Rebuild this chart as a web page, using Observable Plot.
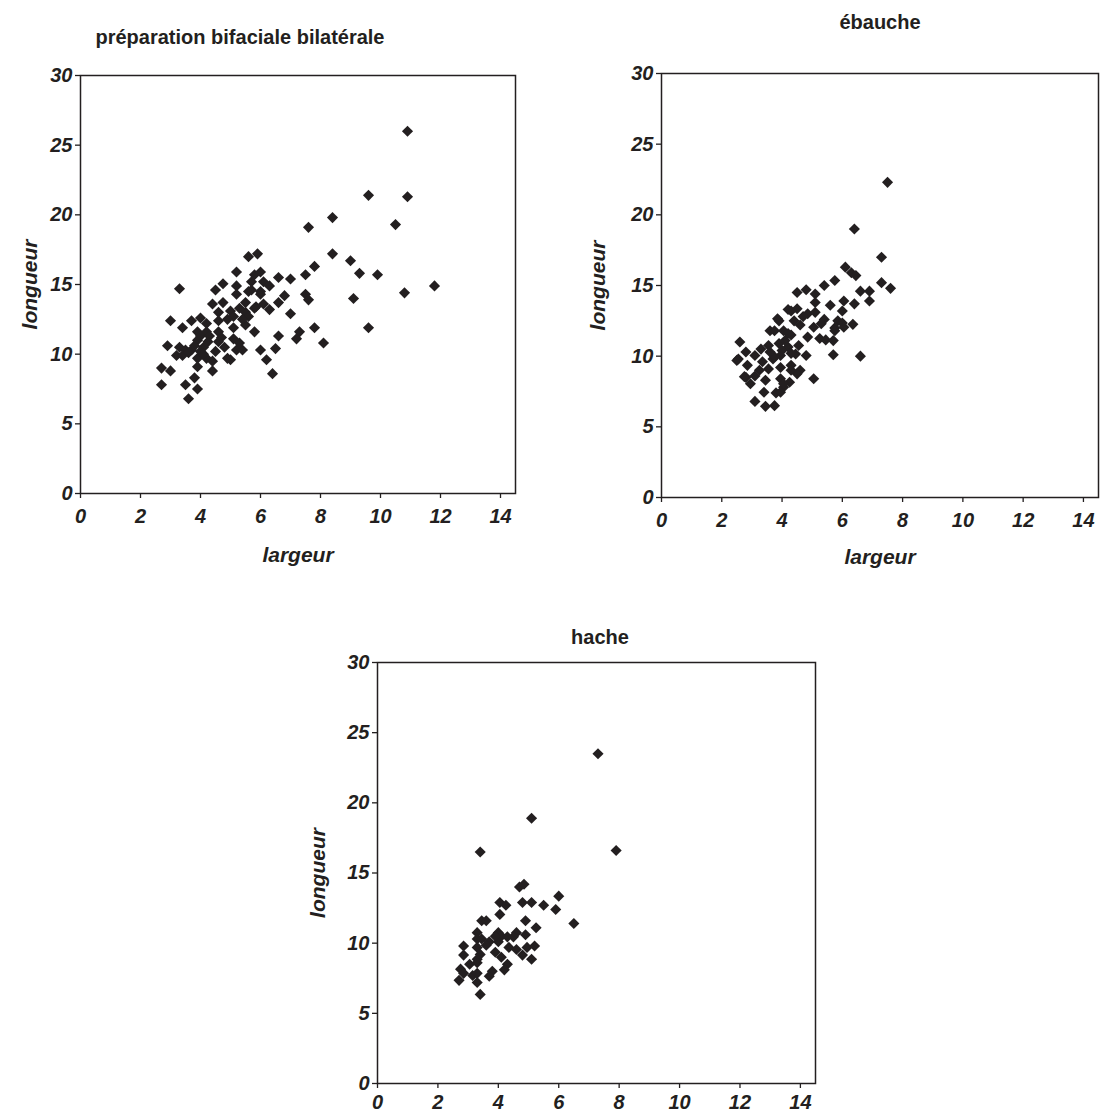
<!DOCTYPE html>
<html><head><meta charset="utf-8">
<script src="https://cdn.jsdelivr.net/npm/d3@7"></script>
<script src="https://cdn.jsdelivr.net/npm/@observablehq/plot@0.6"></script>
<style>
body{margin:0;background:#fff;font-family:"Liberation Sans",Arial,sans-serif;}
#wrap{position:relative;width:1100px;height:1115px;overflow:hidden;background:#fff;}
.title{position:absolute;font-weight:bold;font-size:20px;color:#231f20;transform:translate(-50%,-50%);white-space:nowrap;}
.chart{position:absolute;}
.chart g[aria-label="y-axis label"] text, .chart g[aria-label="x-axis label"] text{font-size:21px;}
</style></head><body><div id="wrap"></div>
<script>
const xTicks = [0, 2, 4, 6, 8, 10, 12, 14];
const yTicks = [0, 5, 10, 15, 20, 25, 30];
const titles = ["préparation bifaciale bilatérale", "ébauche", "hache"];
const xLabel = "largeur";
const yLabel = "longueur";

// [largeur, longueur]
const bifaciale = [
[10.9,26.0],[9.6,21.4],[10.9,21.3],[8.4,19.8],[7.6,19.1],[10.5,19.3],[8.4,17.2],[9.0,16.7],
[9.3,15.8],[9.9,15.7],[11.8,14.9],[9.1,14.0],[10.8,14.4],[9.6,11.9],[7.8,16.3],[7.5,15.7],
[7.0,15.4],[6.6,15.5],[5.6,17.0],[5.9,17.2],[5.2,15.9],[5.8,15.7],[6.0,15.9],[5.7,15.2],
[6.1,15.2],[6.3,14.9],[5.2,14.9],[5.2,14.3],[5.6,14.5],[6.0,14.5],[6.8,14.2],[7.5,14.3],
[7.6,13.9],[6.6,13.7],[7.0,12.9],[5.5,13.7],[6.1,13.6],[6.3,13.2],[5.0,13.1],[5.5,13.0],
[5.8,13.3],[5.1,12.7],[5.6,12.7],[5.1,11.9],[5.5,12.1],[5.8,11.6],[7.8,11.9],[7.3,11.6],
[7.2,11.1],[6.6,11.3],[6.5,10.4],[8.1,10.8],[6.0,10.3],[6.2,9.6],[6.4,8.6],[5.1,11.1],
[5.2,10.3],[5.4,10.3],[5.0,9.6],[3.3,14.7],[4.75,15.05],[4.5,14.6],[5.7,14.6],[6.0,14.3],
[4.4,13.6],[4.75,13.7],[4.6,13.0],[5.3,13.3],[5.85,13.4],[3.0,12.4],[3.7,12.4],[3.4,11.9],
[4.0,12.6],[4.2,12.2],[4.6,12.4],[4.9,12.5],[5.4,12.5],[3.9,11.6],[4.2,11.6],[4.6,11.6],
[4.7,11.2],[2.9,10.6],[3.3,10.5],[3.5,10.3],[3.7,10.3],[3.9,11.0],[4.1,10.5],[4.25,10.9],
[3.2,9.9],[3.4,9.9],[3.9,9.7],[4.2,9.7],[4.6,10.9],[4.8,10.5],[4.9,9.7],[4.4,9.5],
[2.7,9.0],[3.0,8.8],[3.9,9.1],[4.4,8.8],[2.7,7.8],[3.5,7.8],[3.8,8.3],[3.9,7.5],[3.6,6.8],
[3.6,10.1],[4.0,10.2],[3.8,10.6],[4.0,11.3],[4.3,11.3],[4.1,10.0],[5.3,10.8],[4.5,10.2]
];

const ebauche = [
[7.5,22.3],[6.4,19.0],[7.3,17.0],[6.1,16.3],[6.3,15.9],[6.45,15.7],[7.3,15.2],[7.6,14.8],
[6.6,14.6],[6.9,14.6],[6.9,13.9],[5.75,15.35],[5.4,15.0],[4.5,14.5],[4.8,14.7],[5.1,14.4],
[5.1,13.8],[5.6,13.6],[6.05,13.9],[6.4,13.7],[6.0,13.2],[4.2,13.3],[4.5,13.35],[4.85,13.0],
[5.1,13.1],[3.85,12.65],[4.4,12.5],[4.6,12.2],[5.4,12.6],[5.85,12.5],[6.0,12.35],[6.35,12.25],
[5.75,12.0],[5.05,12.05],[3.6,11.8],[4.05,11.8],[4.3,11.5],[4.85,11.35],[5.25,11.25],[5.45,11.15],
[5.7,11.1],[2.6,11.0],[3.3,10.5],[3.55,10.75],[3.9,10.9],[4.2,10.65],[4.55,10.75],[5.7,10.1],
[6.6,10.0],[2.8,10.3],[3.1,10.05],[2.55,9.8],[2.85,9.35],[3.35,9.6],[3.7,9.8],[3.95,10.05],
[4.45,10.15],[4.8,10.05],[3.55,9.1],[3.95,9.2],[4.3,9.35],[4.6,9.0],[2.8,8.5],[3.1,8.6],
[2.95,8.05],[3.45,8.3],[3.95,8.4],[4.25,8.15],[4.5,8.75],[5.05,8.4],[3.4,7.45],[3.8,7.4],
[4.05,7.8],[3.1,6.8],[3.45,6.45],[3.75,6.5],[5.75,11.8],[6.05,12.05],[2.5,9.7],[2.75,8.55],
[3.25,9.0],[3.75,11.8],[3.9,12.5],[4.3,13.2],[4.2,11.6],[3.75,9.95],[4.05,8.05],[3.95,7.45],
[4.3,9.0],[4.0,10.4],[4.3,10.2],[3.6,10.3],[4.1,11.1],[4.7,12.8],[5.3,12.3]
];

const hache = [
[7.3,23.5],[5.1,18.9],[3.4,16.5],[7.9,16.6],[4.7,14.0],[4.85,14.2],[6.0,13.35],[4.05,12.9],
[4.25,12.7],[4.8,12.9],[5.1,12.9],[5.5,12.7],[5.9,12.4],[4.05,12.05],[3.45,11.6],[3.6,11.6],
[4.9,11.6],[6.5,11.4],[5.25,11.1],[3.3,10.75],[4.0,10.75],[4.1,10.5],[4.6,10.75],[4.9,10.6],
[4.3,10.45],[4.5,10.45],[3.3,10.3],[3.45,10.3],[3.7,10.1],[4.0,10.1],[3.6,9.85],[2.85,9.8],
[3.3,9.7],[4.35,9.7],[4.6,9.55],[4.95,9.7],[5.2,9.8],[3.9,9.35],[4.1,9.0],[2.85,9.15],
[3.4,9.2],[3.3,8.85],[4.8,9.15],[5.1,8.85],[3.05,8.5],[3.3,8.6],[4.3,8.5],[4.2,8.1],
[2.75,8.15],[2.85,7.85],[3.15,7.7],[3.3,7.85],[3.8,8.0],[3.7,7.65],[2.7,7.35],[3.3,7.2],
[3.4,6.35],[3.9,10.5]
];

const ink = "#231f20";
const wrap = document.getElementById("wrap");

function addTitle(text, cx, cy) {
  const d = document.createElement("div");
  d.className = "title";
  d.textContent = text;
  d.style.left = cx + "px";
  d.style.top = cy + "px";
  wrap.appendChild(d);
}

function make(data, o) {
  const chart = Plot.plot({
    width: o.width, height: o.height,
    marginLeft: o.ml, marginRight: o.mr, marginTop: o.mt, marginBottom: o.mb,
    x: {domain: [0, 14.5]},
    y: {domain: [0, 30]},
    style: {fontFamily: "'Liberation Sans', Arial, sans-serif", fontSize: "20px", fontWeight: "bold", fontStyle: "italic", color: ink, background: "white", overflow: "visible"},
    marks: [
      Plot.frame({stroke: ink, strokeWidth: 1.5}),
      Plot.axisY({ticks: yTicks, tickSize: 5, tickPadding: 3, tickFormat: d => d, label: yLabel, labelAnchor: "center", labelArrow: "none", labelOffset: o.ylo, stroke: ink, strokeWidth: 1.3}),
      Plot.axisX({ticks: xTicks, tickSize: 5, tickPadding: o.xtp, tickFormat: d => d, label: o.xlabel ? xLabel : null, labelAnchor: "center", labelArrow: "none", labelOffset: o.xlo, stroke: ink, strokeWidth: 1.3}),
      Plot.dot(data, {x: d => d[0], y: d => d[1], symbol: "diamond2", r: 5, fill: ink, stroke: "none"})
    ]
  });
  chart.classList.add("chart");
  chart.style.left = o.left + "px";
  chart.style.top = o.top + "px";
  wrap.appendChild(chart);
}

make(bifaciale, {left: 0, top: 0, width: 540, height: 580, ml: 80, mr: 25, mt: 75, mb: 87, ylo: 58, xlo: 68, xtp: 10, xlabel: true});
make(ebauche, {left: 560, top: 0, width: 540, height: 580, ml: 101, mr: 2, mt: 73, mb: 83, ylo: 71, xlo: 66, xtp: 10, xlabel: true});
make(hache, {left: 280, top: 600, width: 560, height: 515, ml: 97, mr: 25, mt: 62, mb: 32, ylo: 67, xlo: 70, xtp: 6, xlabel: false});

addTitle(titles[0], 240, 37);
addTitle(titles[1], 880, 22);
addTitle(titles[2], 600, 637);
</script></body></html>
